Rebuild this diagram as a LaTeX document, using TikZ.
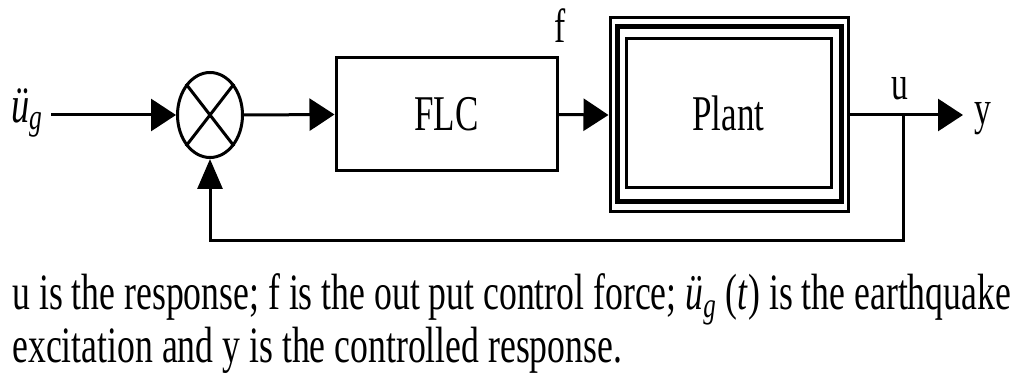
\documentclass[tikz,border=0pt]{standalone}
\usepackage{fontspec}
\setmainfont[FakeStretch=0.7]{Liberation Serif}
\usetikzlibrary{arrows.meta,shapes.geometric}

\tikzset{
  line/.style={line width=1.5pt},
  arr/.style={line, -{Triangle[length=12.5pt,width=16pt]}},
  uparr/.style={line, -{Triangle[length=15pt,width=12.5pt]}},
  blockbox/.style={draw, line width=1.5pt, minimum width=110.5pt, minimum height=56.5pt,
    inner sep=0pt, font=\fontsize{25}{29}\selectfont},
  sumnode/.style={draw, ellipse, line width=1.5pt, minimum width=32.5pt,
    minimum height=42.5pt, inner sep=0pt},
  lbl/.style={font=\fontsize{24}{28}\selectfont, inner sep=0pt},
  captext/.style={font=\fontsize{25.5}{26.5}\selectfont, inner sep=0pt, anchor=base west},
}

\begin{document}
\begin{tikzpicture}[x=0.5pt,y=-0.5pt]
  \useasboundingbox (0,0) rectangle (1014,374);

  % Blocks
  \node[lbl, inner sep=4pt, font=\fontsize{26}{30}\selectfont] (ug) at (27,113) {\itshape ü\textsubscript{g}};
  \node[sumnode] (sum) at (210,115) {};
  \node[blockbox] (flc) at (446.5,114.5) {FLC};
  \node[draw, line width=1.5pt, minimum width=119pt, minimum height=97pt] (plant) at (729,115) {};
  \node[draw, line width=2.5pt, minimum width=112pt, minimum height=87.5pt] (plantmid) at (729,114.5) {};
  \node[blockbox, minimum width=102.5pt, minimum height=74.5pt] (plantin) at (728.5,113.5) {Plant};

  % Cross in the summer
  \draw[line] (sum.north west) -- (sum.south east);
  \draw[line] (sum.north east) -- (sum.south west);

  % Labels
  \node[lbl, anchor=base] (f) at (560,43) {f};
  \node[lbl, anchor=base] (u) at (900,100) {u};
  \node[lbl, anchor=base west] (y) at (974,125) {y};

  \coordinate (out) at (963,115);
  \coordinate (br) at (903,115);
  \coordinate (fbc) at (903,241);

  % Signal path
  \draw[arr] (ug.east |- sum) -- (sum.west);
  \draw[arr] (sum.east) -- (flc.west);
  \draw[arr] (flc.east) -- (plant.west);
  \draw[arr] (plant.east |- out) -- (out);

  % Feedback
  \draw[uparr] (br) -- (fbc) -| (sum.south);

  % Caption
  \node[captext] (cap1) at (12,310)
    {u is the response; f is the out put control force; \textit{ü}\textsubscript{\itshape g} (\textit{t}) is the earthquake};
  \node[captext] (cap2) at (12,363)
    {excitation and y is the controlled response.};

\end{tikzpicture}
\end{document}
